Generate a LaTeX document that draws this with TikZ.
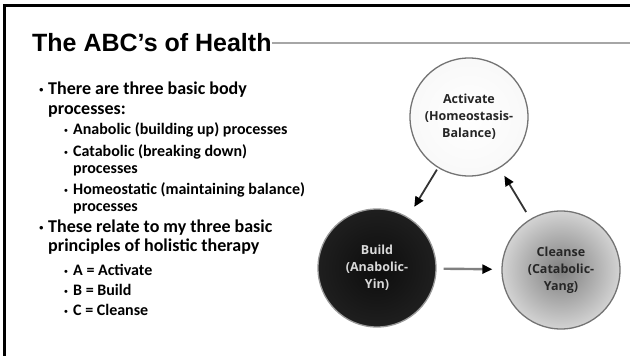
\documentclass[tikz,border=0pt]{standalone}
\usepackage{fontspec}
\setmainfont{Carlito}
\newfontfamily\titlefont{Liberation Sans}
\newfontfamily\circfont{Open Sans}
\usetikzlibrary{arrows.meta}

\pgfdeclareradialshading{actshade}{\pgfpoint{0bp}{0bp}}{color(0bp)=(white); color(30bp)=(black!3); color(47bp)=(black!12); color(50bp)=(black!6)}
\pgfdeclareradialshading{bldshade}{\pgfpoint{0bp}{0bp}}{color(0bp)=(black!95); color(25bp)=(black!88); color(44bp)=(black!68); color(48bp)=(black!55); color(50bp)=(black!45)}
\pgfdeclareradialshading{clsshade}{\pgfpoint{0bp}{0bp}}{color(0bp)=(black!50); color(14bp)=(black!32); color(32bp)=(black!8); color(46bp)=(black!2); color(50bp)=(black!6)}

\begin{document}
\begin{tikzpicture}[x=1pt,y=-1pt]
							\tikzstyle{lvone}=[anchor=base west,inner sep=0pt,font=\bfseries\fontsize{18}{20}\selectfont]
							\tikzstyle{lvtwo}=[anchor=base west,inner sep=0pt,font=\bfseries\fontsize{16}{18}\selectfont]
							\tikzstyle{dotone}=[anchor=base west,inner sep=0pt,font=\titlefont\fontsize{13}{13}\selectfont]
							\tikzstyle{dottwo}=[anchor=base west,inner sep=0pt,font=\titlefont\fontsize{11}{11}\selectfont]
							\tikzstyle{ball}=[circle,minimum size=118pt,inner sep=0pt,line width=1.3pt,align=center,font=\circfont\bfseries\fontsize{12.5}{17}\selectfont]
							\tikzstyle{flow}=[line width=1.8pt,draw=black!80,-{Triangle[length=10pt,width=9pt,color=black]}]
							\useasboundingbox (0,0) rectangle (630,356);
							\fill[white] (0,0) rectangle (630,356);
							\draw[line width=3pt] (4,356) -- (4,5) -- (630,5);
							\node[anchor=base west,inner sep=0pt,font=\titlefont\bfseries\fontsize{25}{30}\selectfont] (title) at (32,52) {The ABC’s of Health};
							\coordinate (rule) at (630,43);
							\draw[line width=1.5pt,black!35] (title.base east |- rule) -- (rule);
							\node[dotone] (d1) at (39,94) {•};
							\node[lvone] (t1) at (48,94) {There are three basic body};
							\node[lvone] (t2) at (48,114) {processes:};
							\node[dottwo] (d3) at (64,134) {•};
							\node[lvtwo] (t3) at (73,134) {Anabolic (building up) processes};
							\node[dottwo] (d4) at (64,156) {•};
							\node[lvtwo] (t4) at (73,156) {Catabolic (breaking down)};
							\node[lvtwo] (t5) at (73,173) {processes};
							\node[dottwo] (d6) at (64,194) {•};
							\node[lvtwo] (t6) at (73,194) {Homeostatic (maintaining balance)};
							\node[lvtwo] (t7) at (73,211) {processes};
							\node[dotone] (d8) at (39,232) {•};
							\node[lvone] (t8) at (48,232) {These relate to my three basic};
							\node[lvone] (t9) at (48,251) {principles of holistic therapy};
							\node[dottwo] (d10) at (64,275) {•};
							\node[lvtwo] (t10) at (73,275) {A = Activate};
							\node[dottwo] (d11) at (64,295) {•};
							\node[lvtwo] (t11) at (73,295) {B = Build};
							\node[dottwo] (d12) at (64,315) {•};
							\node[lvtwo] (t12) at (73,315) {C = Cleanse};
							\node[ball,draw=black!55,shading=actshade,text=black!85] (act) at (469,117) {Activate\\(Homeostasis-\\Balance)};
							\node[ball,draw=black!40,shading=bldshade,text=black!15] (bld) at (377,268) {Build\\(Anabolic-\\Yin)};
							\node[ball,draw=black!55,shading=clsshade,text=black!85] (cls) at (561,270) {Cleanse\\(Catabolic-\\Yang)};
							\draw[flow,shorten <=2pt,shorten >=12pt] (act) -- (bld);
							\draw[flow,draw=black!50,line width=2.4pt,shorten <=7pt,shorten >=9pt] (bld) -- (cls);
							\draw[flow,shorten <=8pt,shorten >=9pt] (cls) -- (act);
							\end{tikzpicture}
\end{document}
